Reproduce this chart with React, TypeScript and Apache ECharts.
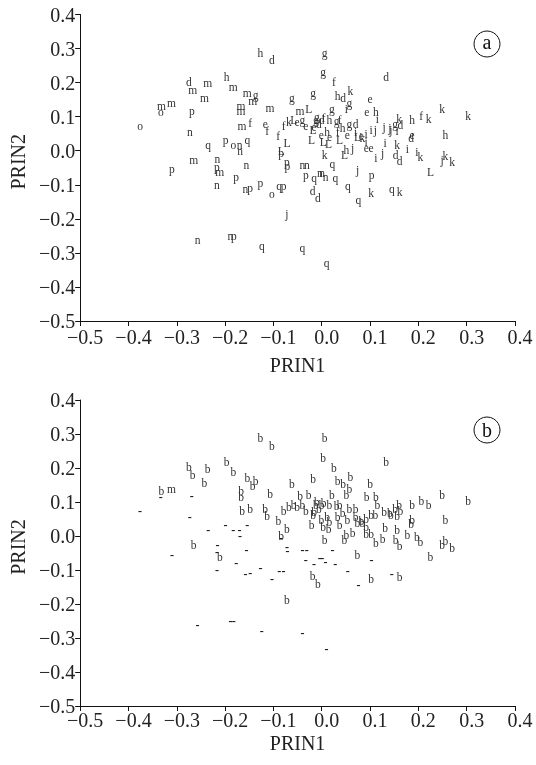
import React, { useEffect, useRef } from "react";
import * as echarts from "echarts";

// PRIN1 (x) and PRIN2 (y) scores of each specimen
const prin1 = [
  -0.127, -0.103, 0.006, 0.003, 0.025, 0.133, -0.197, -0.275, -0.236, -0.267,
  -0.243, -0.183, -0.154, -0.137, -0.143, -0.062, -0.018, 0.059, 0.033, 0.044,
  0.100, -0.332, -0.311, -0.333, -0.269, -0.167, -0.167, -0.107, -0.045, -0.027,
  0.057, 0.051, 0.093, 0.112, 0.021, 0.249, 0.303, 0.187, 0.206, 0.221,
  0.160, 0.163, 0.115, 0.129, -0.376, -0.165, -0.148, -0.117, -0.113, -0.079,
  -0.068, -0.058, -0.051, -0.040, -0.273, -0.090, -0.072, -0.021, -0.235, -0.199,
  -0.183, -0.170, -0.154, -0.169, -0.084, -0.084, -0.072, -0.071, -0.265, -0.216,
  -0.310, -0.217, -0.211, -0.156, -0.040, -0.031, -0.033, -0.016, -0.177, -0.217,
  -0.158, -0.148, -0.127, -0.103, -0.088, -0.079, -0.019, -0.008, -0.072, -0.257,
  -0.189, -0.182, -0.124, -0.040, 0.010, -0.004, 0.001, 0.008, 0.022, 0.028,
  0.054, 0.076, 0.074, 0.103, 0.102, 0.145, 0.161, 0.225, 0.249, 0.256,
  0.270, 0.153, 0.161, 0.177, 0.197, 0.204, 0.256, 0.187, 0.185, 0.156,
  0.131, 0.126, 0.112, 0.102, 0.092, 0.092, 0.047, 0.051, 0.064, 0.006,
  0.003, 0.014, -0.001, 0.011, 0.074, 0.082, 0.102, 0.111, 0.143, 0.156,
  -0.012, -0.006, -0.016, -0.018, 0.000, 0.016, 0.031, 0.037, 0.057, 0.070,
  0.016, 0.033, 0.084, 0.092, 0.152, 0.141,
  -0.033, -0.010, 0.004, 0.043, 0.037, 0.053, 0.070,
];

const prin2 = [
  0.288, 0.266, 0.288, 0.230, 0.201, 0.217, 0.217, 0.203, 0.198, 0.178,
  0.156, 0.188, 0.170, 0.163, 0.146, 0.154, 0.169, 0.175, 0.161, 0.154,
  0.152, 0.132, 0.139, 0.115, 0.117, 0.131, 0.116, 0.124, 0.117, 0.122,
  0.139, 0.122, 0.115, 0.115, 0.122, 0.122, 0.102, 0.090, 0.102, 0.092,
  0.092, 0.075, 0.092, 0.070, 0.073, 0.073, 0.080, 0.078, 0.059, 0.073,
  0.085, 0.090, 0.084, 0.090, 0.056, 0.043, 0.022, 0.031, 0.017, 0.031,
  0.017, 0.017, 0.031, 0.000, -0.006, -0.001, -0.032, -0.045, -0.027, -0.025,
  -0.055, -0.048, -0.062, -0.042, -0.042, -0.042, -0.071, -0.081, -0.078, -0.101,
  -0.112, -0.110, -0.094, -0.127, -0.104, -0.104, -0.118, -0.140, -0.187, -0.262,
  -0.250, -0.250, -0.280, -0.285, -0.331, -0.066, -0.066, -0.076, -0.040, -0.081,
  -0.103, -0.145, -0.057, -0.071, -0.125, -0.112, -0.122, -0.062, -0.027, -0.016,
  -0.034, -0.013, -0.029, 0.004, -0.003, -0.019, 0.046, 0.046, 0.036, 0.017,
  0.023, -0.008, -0.022, 0.007, 0.007, 0.026, -0.013, 0.002, 0.008, -0.013,
  0.026, 0.020, 0.046, 0.056, 0.039, 0.043, 0.061, 0.061, 0.061, 0.058,
  0.090, 0.078, 0.070, 0.061, 0.090, 0.090, 0.087, 0.090, 0.078, 0.078,
  0.040, 0.055, 0.037, 0.049, 0.078, 0.067,
  0.073, 0.099, 0.096, 0.067, 0.031, 0.046, 0.055,
];

// plotting symbols of panel (a)
const groupA = [
  "h", "d", "g", "g", "f", "d", "h", "d", "m", "m",
  "m", "m", "m", "g", "m", "g", "g", "k", "h", "d",
  "e", "m", "m", "o", "p", "m", "m", "m", "m", "L",
  "g", "i", "e", "h", "g", "k", "k", "h", "f", "k",
  "k", "d", "i", "j", "o", "m", "f", "e", "f", "f",
  "k", "L", "e", "g", "n", "f", "L", "L", "q", "p",
  "o", "n", "q", "n", "p", "L", "p", "p", "m", "n",
  "p", "p", "m", "n", "n", "n", "p", "q", "p", "n",
  "n", "p", "p", "o", "q", "p", "d", "d", "j", "n",
  "n", "p", "q", "q", "q", "n", "n", "n", "q", "q",
  "q", "q", "j", "p", "k", "q", "k", "L", "j", "k",
  "k", "d", "d", "i", "i", "k", "h", "e", "d", "k",
  "i", "j", "i", "e", "e", "i", "L", "h", "j", "k",
  "L", "L", "e", "h", "L", "e", "i", "j", "j", "i",
  "g", "d", "e", "L", "d", "h", "g", "f", "g", "d",
  "e", "f", "k", "i", "g", "j",
  "e", "g", "f", "h", "L", "e", "i",
];

// plotting symbols of panel (b)
const groupB = [
  "b", "b", "b", "b", "b", "b", "b", "b", "b", "b",
  "b", "b", "b", "b", "b", "b", "b", "b", "b", "b",
  "b", "b", "m", "-", "-", "b", "b", "b", "b", "b",
  "b", "b", "b", "b", "b", "b", "b", "b", "b", "b",
  "b", "b", "b", "b", "-", "b", "b", "b", "b", "b",
  "b", "b", "b", "b", "-", "b", "b", "b", "-", "-",
  "-", "-", "-", "-", "-", "b", "-", "-", "b", "-",
  "-", "-", "b", "-", "-", "-", "-", "-", "-", "-",
  "-", "-", "-", "-", "-", "-", "b", "b", "b", "-",
  "-", "-", "-", "-", "-", "-", "-", "-", "-", "-",
  "-", "-", "b", "-", "b", "-", "b", "b", "b", "b",
  "b", "b", "b", "b", "b", "b", "b", "b", "b", "b",
  "b", "b", "b", "b", "b", "b", "b", "b", "b", "b",
  "b", "b", "b", "b", "b", "b", "b", "b", "b", "b",
  "b", "b", "b", "b", "b", "b", "b", "b", "b", "b",
  "b", "b", "b", "b", "b", "b",
  "b", "b", "b", "b", "b", "b", "b",
];

const axisMin = -0.5;
const axisMax = 0.4;
const axisStep = 0.1;
const panelTags = ["a", "b"];

const SERIF = "Liberation Serif, serif";

const fmt = (v: number) => {
  const r = Math.round(v * 10) / 10;
  if (Math.abs(r) < 1e-9) return "0.0";
  return (r < 0 ? "\u2212" : "") + Math.abs(r).toFixed(1);
};

export default function App() {
  const ref = useRef<HTMLDivElement>(null);
  useEffect(() => {
    if (!ref.current) return;
    const chart = echarts.init(ref.current, null, { renderer: "svg" });

    const grids = [
      { left: 76, top: 14.5, width: 439, height: 306.5 },
      { left: 76, top: 400, width: 439, height: 306 },
    ];
    const labelMargins = [6, 4];
    const nameGaps = [34, 27];

    const xAxis = grids.map((_, i) => ({
      type: "value",
      gridIndex: i,
      min: axisMin,
      max: axisMax,
      interval: axisStep,
      axisLine: { show: true, onZero: false, lineStyle: { color: "#111", width: 1 } },
      axisTick: { show: true, length: 5, lineStyle: { color: "#111", width: 1 } },
      axisLabel: {
        margin: labelMargins[i],
        fontFamily: SERIF,
        fontSize: 20,
        color: "#222",
        padding: [0, 0, 0, 10],
        formatter: fmt,
      },
      splitLine: { show: false },
      name: "PRIN1",
      nameLocation: "middle",
      nameGap: nameGaps[i],
      nameTextStyle: { fontFamily: SERIF, fontSize: 20, color: "#222" },
    }));

    const yAxis = grids.map((_, i) => ({
      type: "value",
      gridIndex: i,
      min: axisMin,
      max: axisMax,
      interval: axisStep,
      axisLine: { show: true, onZero: false, lineStyle: { color: "#111", width: 1 } },
      axisTick: { show: true, length: 5, lineStyle: { color: "#111", width: 1 } },
      axisLabel: {
        margin: 5,
        fontFamily: SERIF,
        fontSize: 20,
        color: "#222",
        formatter: fmt,
      },
      splitLine: { show: false },
      name: "PRIN2",
      nameLocation: "middle",
      nameGap: 50,
      nameTextStyle: {
        fontFamily: SERIF,
        fontSize: 20,
        color: "#222",
        padding: [0, 0, 0, 12],
      },
    }));

    const mkSeries = (idx: number, labels: string[]) => ({
      type: "scatter",
      xAxisIndex: idx,
      yAxisIndex: idx,
      symbol: "circle",
      symbolSize: 1,
      silent: true,
      itemStyle: { color: "#ffffff", opacity: 0 },
      data: prin1.map((x, i) => ({
        value: [x, prin2[i]],
        name: labels[i],
        label:
          labels[i] === "-"
            ? { fontWeight: "bold", color: "#111111", fontSize: 12 }
            : undefined,
      })),
      label: {
        show: true,
        position: "inside",
        formatter: (p: any) => p.name,
        fontFamily: SERIF,
        fontSize: 11.5,
        color: "#333333",
        opacity: 1,
      },
    });

    const tagPos = [
      { cx: 487, cy: 44 },
      { cx: 487, cy: 430 },
    ];
    const graphic: any[] = [];
    tagPos.forEach((t, i) => {
      graphic.push({
        type: "circle",
        shape: { cx: t.cx, cy: t.cy, r: 13 },
        style: { fill: "none", stroke: "#111", lineWidth: 1 },
        silent: true,
      });
      graphic.push({
        type: "text",
        x: t.cx,
        y: t.cy - (i === 0 ? 2 : 0),
        style: {
          text: panelTags[i],
          font: `20px ${SERIF}`,
          fill: "#111",
          align: "center",
          verticalAlign: "middle",
          textAlign: "center",
          textVerticalAlign: "middle",
        },
        silent: true,
      });
    });

    chart.setOption({
      animation: false,
      backgroundColor: "#fff",
      textStyle: { fontFamily: SERIF },
      grid: grids,
      xAxis,
      yAxis,
      series: [mkSeries(0, groupA), mkSeries(1, groupB)],
      graphic,
    });

    return () => chart.dispose();
  }, []);

  return (
    <div
      ref={ref}
      style={{
        position: "fixed",
        left: 0,
        top: 0,
        width: 536,
        height: 765,
        background: "#fff",
        willChange: "transform",
      }}
    />
  );
}
